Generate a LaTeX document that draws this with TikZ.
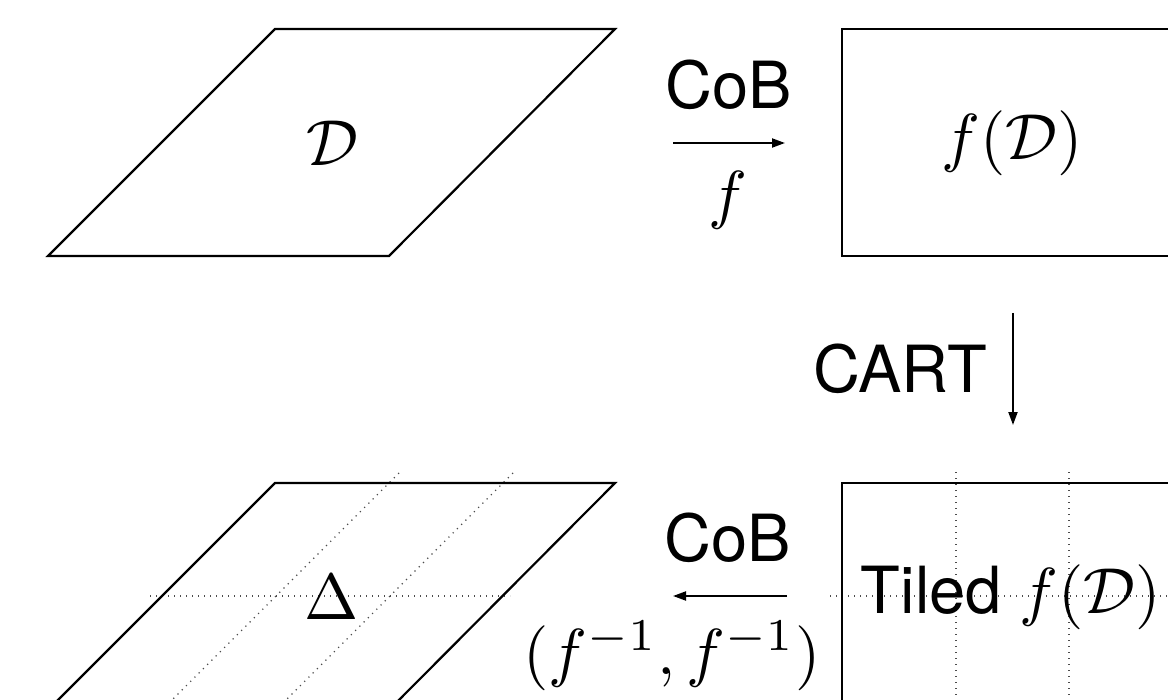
\documentclass[tikz,border=0pt]{standalone}
\usepackage{fontspec}
\setsansfont{TeX Gyre Heros}
\usetikzlibrary{arrows.meta}
% labels are set at 10pt and enlarged as a whole
\newcommand{\biglabel}[1]{\scalebox{3.25}{#1}}

\begin{document}
\begin{tikzpicture}[x=0.5pt,y=-0.5pt,
  region/.style={draw=black,line width=1.1pt,line join=miter},
  grid/.style={draw=black!70,line width=0.6pt,dash pattern=on 0.6pt off 2.4pt},
  map/.style={line width=1pt,-{Triangle[length=6.5pt,width=4.5pt]}},
  lbl/.style={inner sep=0pt,font=\fontsize{10}{12}\selectfont},
  slbl/.style={inner sep=0pt,font=\fontsize{10}{12}\selectfont\sffamily}]

\useasboundingbox (0,0) rectangle (1168,700);
\clip (0,0) rectangle (1168,700);

% domain D (sheared square)
\draw[region] (48,256) -- (275,29) -- (615,29) -- (389,256) -- cycle;
\node[lbl] (D) at (332,143) {\biglabel{$\mathcal{D}$}};

% image f(D)
\draw[region] (842,29) rectangle (1183,256);
\node[lbl] (fD) at (1012,143) {\biglabel{$f(\mathcal{D})$}};

% change of basis D -> f(D)
\coordinate (a1) at (673,143);
\coordinate (b1) at (785,143);
\draw[map] (a1) -- (b1);
\node[slbl] (cob1) at (729,85) {\biglabel{CoB}};
\node[lbl] (f1) at (728,200) {\biglabel{$f$}};

% cartesian tiling step
\coordinate (c1) at (1013,313);
\coordinate (c2) at (1013,425);
\draw[map] (c1) -- (c2);
\node[slbl] (cart) at (900,369) {\biglabel{CART}};

% tile boundaries
\draw[grid] (150,596) -- (510,596);
\draw[grid] (399,473) -- (159,713);
\draw[grid] (513,473) -- (273,713);
\draw[grid] (956,472) -- (956,705);
\draw[grid] (1069,472) -- (1069,705);
\draw[grid] (830,596) -- (1168,596);

% tiled domain Delta
\draw[region] (48,710) -- (275,483) -- (615,483) -- (389,710) -- cycle;
\node[lbl] (delta) at (332,597) {\biglabel{$\Delta$}};

% tiled f(D)
\draw[region] (842,483) rectangle (1183,710);
\node[slbl] (tiled) at (1011,597) {\biglabel{Tiled $f(\mathcal{D})$}};

% change of basis back
\coordinate (a2) at (787,596);
\coordinate (b2) at (673,596);
\draw[map] (a2) -- (b2);
\node[slbl] (cob2) at (728,538) {\biglabel{CoB}};
\node[lbl] (finv) at (672,656) {\biglabel{$(f^{-1},f^{-1})$}};
\end{tikzpicture}
\end{document}
